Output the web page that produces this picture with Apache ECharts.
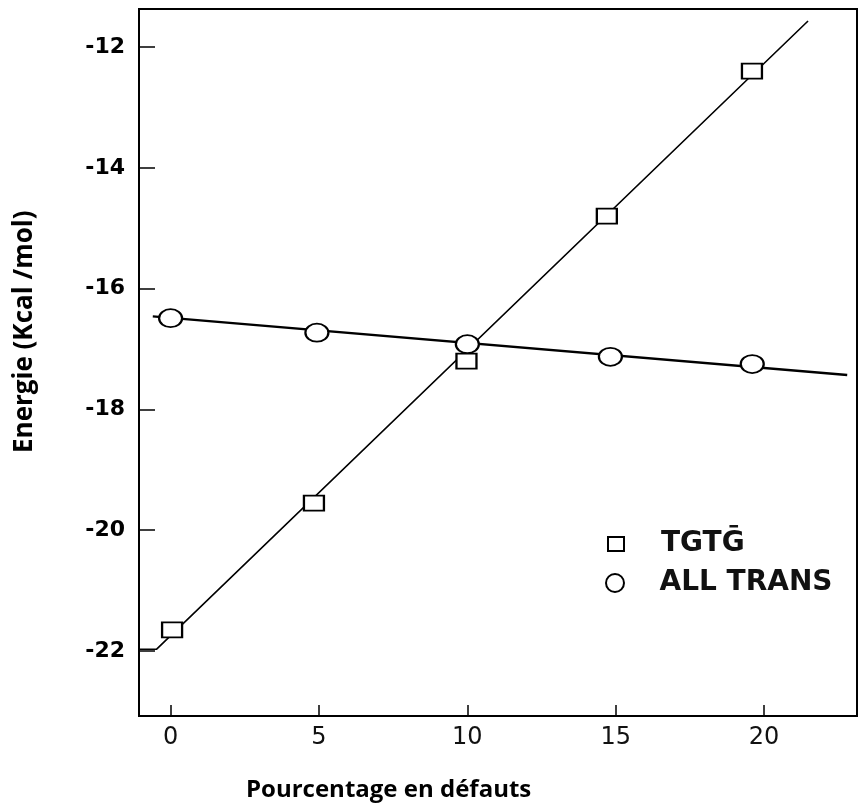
<!DOCTYPE html>
<html>
<head>
<meta charset="utf-8">
<script src="https://cdn.jsdelivr.net/npm/echarts@6/dist/echarts.min.js"></script>
<style>html,body{margin:0;padding:0;background:#fff}#c{width:858px;height:809px}</style>
</head>
<body>
<div id="c"></div>
<script>
// ---- data ----
var xTicks = [0, 5, 10, 15, 20];
var yTicks = [-22, -20, -18, -16, -14, -12];

var tgtgName = 'TGTḠ';
var tgtgX = [0.05, 4.83, 9.97, 14.7, 19.59];
var tgtgY = [-21.65, -19.55, -17.2, -14.8, -12.4];

var allName = 'ALL TRANS';
var allX = [0, 4.93, 10, 14.82, 19.6];
var allY = [-16.49, -16.73, -16.92, -17.13, -17.25];

// fitted straight lines drawn in the figure (end points)
var tgtgFitX = [-1.065, -0.47, 21.48];
var tgtgFitY = [-21.97, -21.97, -11.57];
var allFitX = [-0.6, 22.8];
var allFitY = [-16.46, -17.43];

function pairs(xs, ys) { return xs.map(function (x, i) { return [x, ys[i]]; }); }

var chart = echarts.init(document.getElementById('c'), null, { renderer: 'canvas' });
var option = {
  backgroundColor: '#fff',
  animation: false,
  grid: {
    left: 139, right: 1, top: 9, bottom: 93,
    show: true, borderColor: '#000', borderWidth: 2, backgroundColor: 'transparent'
  },
  xAxis: {
    type: 'value', min: -1.065, max: 23.13,
    axisLine: { show: true, onZero: false, lineStyle: { color: '#000', width: 2 } },
    axisTick: { show: true, inside: true, length: 11, customValues: xTicks, lineStyle: { color: '#000', width: 1.5 } },
    axisLabel: { customValues: xTicks, margin: 10, color: '#111', fontSize: 24, fontFamily: 'DejaVu Sans', fontWeight: 'normal' },
    splitLine: { show: false }
  },
  yAxis: {
    type: 'value', min: -23.076, max: -11.371,
    axisLine: { show: true, onZero: false, lineStyle: { color: '#000', width: 2 } },
    axisTick: { show: true, inside: true, length: 16, customValues: yTicks, lineStyle: { color: '#000', width: 1.5 } },
    axisLabel: { customValues: yTicks, margin: 14, color: '#000', fontSize: 22, fontFamily: 'DejaVu Sans', fontWeight: 'bold' },
    splitLine: { show: false }
  },
  legend: [
    {
      data: [tgtgName], orient: 'vertical', left: 607, top: 530, padding: 0,
      itemWidth: 16, itemHeight: 14,
      textStyle: { fontFamily: 'DejaVu Sans', fontWeight: 'bold', fontSize: 28, color: '#111', lineHeight: 28, padding: [0, 0, 0, 32] }
    },
    {
      data: [allName], orient: 'vertical', left: 605, top: 569, padding: 0,
      itemWidth: 25, itemHeight: 18,
      textStyle: { fontFamily: 'DejaVu Sans', fontWeight: 'bold', fontSize: 28, color: '#111', lineHeight: 28, padding: [0, 0, 0, 27] }
    }
  ],
  graphic: [
    {
      type: 'text', x: 25, y: 453, rotation: Math.PI / 2,
      style: { text: 'Energie (Kcal /mol)', fontFamily: 'Open Sans', fontWeight: 'bold', fontSize: 26, fill: '#000', align: 'left', verticalAlign: 'middle' }
    },
    {
      type: 'text', x: 246, y: 790,
      style: { text: 'Pourcentage en défauts', fontFamily: 'Open Sans', fontWeight: 'bold', fontSize: 24, fill: '#000', align: 'left', verticalAlign: 'middle' }
    }
  ],
  series: [
    {
      name: 'TGTḠ fit', type: 'line', data: pairs(tgtgFitX, tgtgFitY),
      showSymbol: false, symbol: 'none', z: 2,
      lineStyle: { color: '#000', width: 1.6 }
    },
    {
      name: 'ALL TRANS fit', type: 'line', data: pairs(allFitX, allFitY),
      showSymbol: false, symbol: 'none', z: 2,
      lineStyle: { color: '#000', width: 2.4 }
    },
    {
      name: tgtgName, type: 'scatter', data: pairs(tgtgX, tgtgY),
      symbol: 'rect', symbolSize: [20, 15], z: 3,
      itemStyle: { color: '#fff', borderColor: '#000', borderWidth: 2, opacity: 1 }
    },
    {
      name: allName, type: 'scatter', data: pairs(allX, allY),
      symbol: 'circle', symbolSize: [23, 18], z: 4,
      itemStyle: { color: '#fff', borderColor: '#000', borderWidth: 2, opacity: 1 }
    }
  ]
};
chart.setOption(option);
</script>
</body>
</html>
